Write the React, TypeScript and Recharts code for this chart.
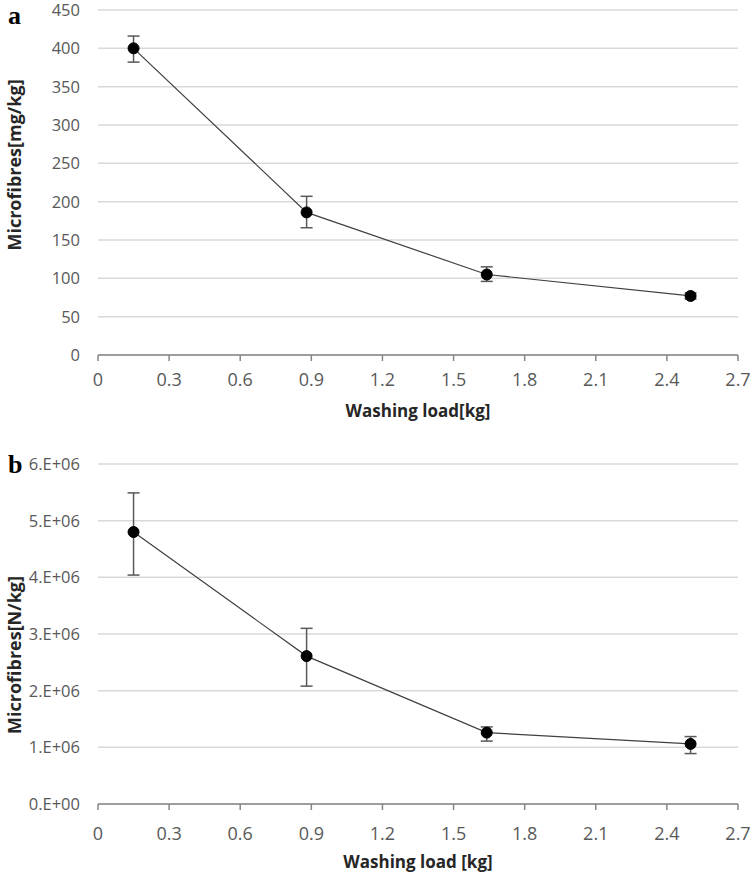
import { CartesianGrid, ErrorBar, Line, LineChart, XAxis, YAxis } from 'recharts'

// washing load (kg) for the four test runs
const loads = [0.15, 0.88, 1.64, 2.5]

// panel a: microfibre mass released
const massMean = [400, 186, 105, 77]
const massErrLow = [18, 20, 9, 4]
const massErrHigh = [16, 21, 10, 4]

// panel b: microfibre count released
const countMean = [4.8e6, 2.61e6, 1.26e6, 1.06e6]
const countErrLow = [0.76e6, 0.53e6, 0.15e6, 0.17e6]
const countErrHigh = [0.69e6, 0.49e6, 0.1e6, 0.13e6]

const xTicks = [0, 0.3, 0.6, 0.9, 1.2, 1.5, 1.8, 2.1, 2.4, 2.7]
const massTicks = [0, 50, 100, 150, 200, 250, 300, 350, 400, 450]
const countTicks = [0, 1e6, 2e6, 3e6, 4e6, 5e6, 6e6]

const massData = loads.map((x, i) => ({ x, y: massMean[i], err: [massErrLow[i], massErrHigh[i]] }))
const countData = loads.map((x, i) => ({ x, y: countMean[i], err: [countErrLow[i], countErrHigh[i]] }))

const FONT = '"Open Sans", "Liberation Sans", sans-serif'
const TICK_FILL = '#595959'
const AXIS_GREY = '#868686'

const sci = (v: number) => (v === 0 ? '0.E+00' : `${Math.round(v / 1e6)}.E+06`)

function Panel({
  data, height, top, xAxisHeight, yTicks, yFmt, yLabel, yLabelY, xLabel, xTickMargin, xLabelOffset, letter, letterY,
}: {
  data: { x: number; y: number; err: number[] }[]
  height: number
  top: number
  xAxisHeight: number
  yTicks: number[]
  yFmt?: (v: number) => string
  yLabel: string
  yLabelY: number
  xLabel: string
  xTickMargin: number
  xLabelOffset: number
  letter: string
  letterY: number
}) {
  const yMax = yTicks[yTicks.length - 1]
  return (
    <div style={{ position: 'relative', width: 751, height }}>
      <div style={{
        position: 'absolute', left: 8, top: letterY, fontFamily: '"Liberation Serif", serif',
        fontWeight: 'bold', fontSize: 26, lineHeight: 1,
      }}>
        {letter}
      </div>
      <LineChart width={751} height={height} data={data} margin={{ top, right: 13, left: 0, bottom: 0 }}>
        <CartesianGrid vertical={false} stroke="#d9d9d9" strokeWidth={1.5} />
        <XAxis
          dataKey="x" type="number" domain={[0, 2.7]} ticks={xTicks} allowDataOverflow height={xAxisHeight}
          stroke={AXIS_GREY} strokeWidth={1.5} tickSize={6} tickMargin={xTickMargin}
          tick={{ fontFamily: FONT, fontSize: 18, fill: TICK_FILL }}
          tickFormatter={(v: number) => String(v)}
          label={{
            content: (p: any) => {
              const vb = p.viewBox
              return (
                <text x={vb.x + vb.width / 2} y={vb.y + xLabelOffset} dy="0.35em" textAnchor="middle"
                  fontFamily={FONT} fontWeight="bold" fontSize={17} fill="#262626">
                  {xLabel}
                </text>
              )
            },
          }}
        />
        <YAxis
          dataKey="y" type="number" domain={[0, yMax]} ticks={yTicks} width={98}
          axisLine={false} tickLine={false} tickSize={0} tickMargin={18}
          tick={{ fontFamily: FONT, fontSize: 16.5, fill: TICK_FILL }}
          tickFormatter={yFmt}
          label={{
            content: () => (
              <text x={15} y={yLabelY} dy="0.35em" textAnchor="middle" transform={`rotate(-90 15 ${yLabelY})`}
                fontFamily={FONT} fontWeight="bold" fontSize={18} fill="#262626">
                {yLabel}
              </text>
            ),
          }}
        />
        <Line
          dataKey="y" stroke="#404040" strokeWidth={1.2} isAnimationActive={false}
          dot={{ r: 5.5, fill: '#000', stroke: '#000', strokeWidth: 1 }} activeDot={false}
        >
          <ErrorBar dataKey="err" width={6} stroke="#595959" strokeWidth={1.5} isAnimationActive={false} />
        </Line>
      </LineChart>
    </div>
  )
}

export default function App() {
  return (
    <div style={{ position: 'absolute', left: 0, top: 0, width: 751, height: 875, background: '#fff' }}>
      <Panel
        data={massData} height={430} top={10} xAxisHeight={75} yTicks={massTicks} yLabel="Microfibres[mg/kg]"
        yLabelY={165} xLabel="Washing load[kg]" xTickMargin={12} xLabelOffset={56} letter="a" letterY={3}
      />
      <Panel
        data={countData} height={445} top={34} xAxisHeight={71} yTicks={countTicks} yFmt={sci}
        yLabel="Microfibres[N/kg]" yLabelY={225} xLabel="Washing load [kg]" xTickMargin={17} xLabelOffset={58}
        letter="b" letterY={22}
      />
    </div>
  )
}
